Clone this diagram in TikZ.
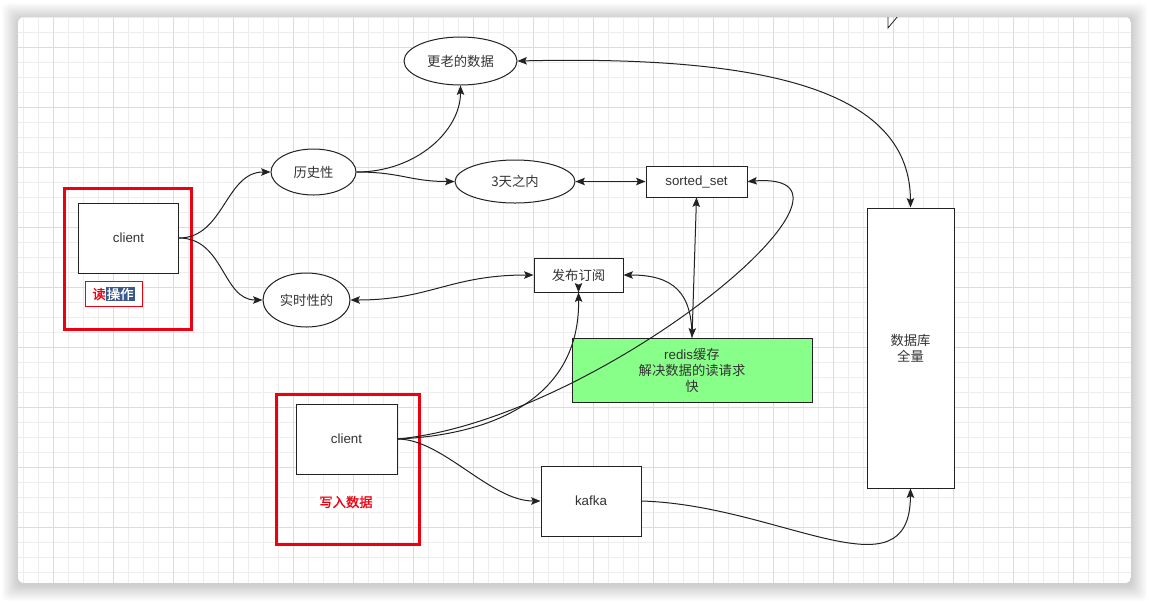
\documentclass[tikz,border=0pt]{standalone}
\usepackage{fontspec}
\setmainfont{Liberation Sans}
\newfontfamily\cjk{Noto Sans CJK SC}
\newfontfamily\cjkb[FakeBold=1.2]{Noto Sans CJK SC}
\usetikzlibrary{arrows.meta,shapes.geometric}
\definecolor{lineC}{HTML}{222222}
\definecolor{txtC}{HTML}{333333}
\definecolor{redC}{HTML}{EE0011}
\definecolor{greenC}{HTML}{88FF88}
\definecolor{hlblue}{HTML}{3A5A8C}
\definecolor{gridminor}{HTML}{EDEDED}
\definecolor{gridmajor}{HTML}{DCDCDC}
\begin{document}
\begin{tikzpicture}[x=0.75pt,y=-0.75pt,
  box/.style={draw=lineC, line width=0.75pt, fill=white, inner sep=0pt, text=txtC, font=\fontsize{10}{12}\selectfont, align=center},
  cjkt/.style={font=\cjk\fontsize{10}{12}\selectfont},
  ell/.style={box, ellipse, cjkt},
  redframe/.style={draw=redC, line width=2.25pt, inner sep=0pt},
  tip/.tip={Stealth[length=7pt,width=5.6pt,inset=1.3pt]},
  conn/.style={draw=lineC, line width=0.75pt, -tip},
  bconn/.style={draw=lineC, line width=0.75pt, tip-tip},
]
\useasboundingbox (0,0) rectangle (1149,601);
\fill[white] (0,0) rectangle (1149,601);
% shadow
\foreach \i in {1,...,16} {
  \fill[black, opacity=0.011, rounded corners=4.5pt] (18-\i,17-\i+2) rectangle (1131+\i,583+\i+2);
}
% canvas + grid
\begin{scope}
\clip[rounded corners=4.5pt] (18,17) rectangle (1131,583);
\fill[white] (18,17) rectangle (1131,583);
\foreach \x in {23,38,...,1131} \draw[gridminor, line width=0.75pt] (\x,17) -- (\x,583);
\foreach \y in {17,32,...,583} \draw[gridminor, line width=0.75pt] (18,\y) -- (1131,\y);
\foreach \x in {53,113,...,1131} \draw[gridmajor, line width=0.75pt] (\x,17) -- (\x,583);
\foreach \y in {47,107,...,583} \draw[gridmajor, line width=0.75pt] (18,\y) -- (1131,\y);
\draw[lineC, line width=0.6pt] (898,16) -- (888,28) -- (888,16);
\end{scope}

% red frames
\node[redframe, minimum width=95.25pt, minimum height=105.75pt] (rf1) at (128,259) {};
\node[redframe, minimum width=107.25pt, minimum height=112.5pt] (rf2) at (347.5,469.5) {};

% nodes
\node[box, minimum width=75pt, minimum height=52.5pt] (c1) at (128.5,238) {client};
\node[draw=redC, line width=0.75pt, fill=white, minimum width=42.75pt, minimum height=18.75pt, inner sep=0pt, font=\cjkb\fontsize{10}{12}\selectfont] (rd) at (113.5,294)
  {\textcolor{redC}{读}{\setlength\fboxsep{0.8pt}\colorbox{hlblue}{\textcolor{white}{操作}}}};
\node[ell, minimum width=63.75pt, minimum height=34.5pt] (hist) at (313.5,172) {历史性};
\node[ell, minimum width=84.75pt, minimum height=36pt] (older) at (460.5,61) {更老的数据};
\node[ell, minimum width=90pt, minimum height=32.25pt] (three) at (515,181.5) {3天之内};
\node[box, minimum width=75.75pt, minimum height=23.25pt] (sorted) at (696.5,181.5) {sorted\_set};
\node[ell, minimum width=65.25pt, minimum height=40.5pt] (rt) at (306.5,300) {实时性的};
\node[box, cjkt, minimum width=66.75pt, minimum height=25.5pt] (pub) at (578.5,275) {发布订阅};
\node[box, fill=greenC, minimum width=180pt, minimum height=48pt] (redis) at (692,370)
  {redis{\cjk 缓存}\\{\cjk 解决数据的读请求}\\{\cjk 快}};
\node[box, minimum width=75.75pt, minimum height=52.5pt] (c2) at (346.5,439) {client};
\node[fill=white, inner sep=2.5pt, text=redC, font=\cjkb\fontsize{10}{12}\selectfont] (wr) at (346,502) {写入数据};
\node[box, minimum width=75pt, minimum height=52.5pt] (kafka) at (591,501) {kafka};
\node[box, cjkt, minimum width=65.25pt, minimum height=210pt] (db) at (910.5,348) {数据库\\全量};

% connectors
\draw[conn] (c1.east) .. controls +(45,0) and +(-45,0) .. (hist.west);
\draw[conn] (c1.east) .. controls +(45,0) and +(-40,0) .. (rt.west);
\draw[conn] (hist.east) .. controls +(60,0) and +(0,45) .. (older.south);
\draw[conn] (hist.east) .. controls +(45,0) and +(-45,0) .. (three.west);
\draw[bconn] (three.east) -- (sorted.west);
\draw[bconn] (older.east) .. controls (780,55) and (910,95) .. (db.north);
\draw[bconn] (rt.east) .. controls (430,300) and (450,275) .. (pub.west);
\draw[conn] (redis.north) .. controls +(0,-45) and +(50,0) .. (pub.east);
\draw[bconn] (sorted.south) -- (redis.north);
\draw[conn] (c2.east) .. controls (490,435) and (580,400) .. (pub.south);
\fill[lineC] (pub.south) -- +(-3.8,-9.5) -- +(0,-7.8) -- +(3.8,-9.5) -- cycle;
\draw[conn] (c2.east) .. controls (600,420) and (900,170) .. (sorted.east);
\draw[conn] (c2.east) .. controls +(45,0) and +(-50,0) .. (kafka.west);
\draw[conn] (kafka.east) .. controls (780,505) and (910,600) .. (db.south);
\end{tikzpicture}
\end{document}
